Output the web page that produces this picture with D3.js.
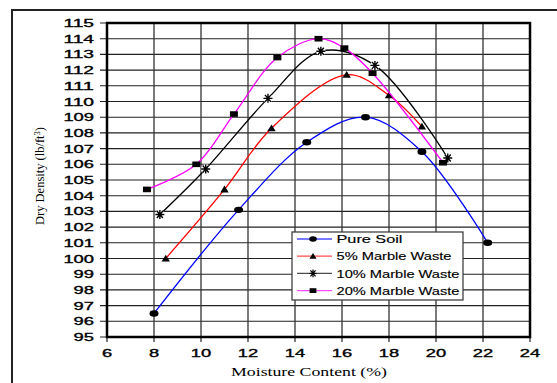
<!DOCTYPE html>
<html lang="en">
<head>
  <meta charset="UTF-8" />
  <title>Dry Density vs Moisture Content</title>
  <script src="https://d3js.org/d3.v7.min.js"></script>
  <style>
    body {
      margin: 0;
      background: #fff;
    }
    svg {
      display: block;
    }
    .tick-label {
      font-family: "Liberation Sans", Arial, sans-serif;
      font-size: 11.5px;
      fill: #000;
      stroke: #000;
      stroke-width: 0.35px;
    }
    .legend-label {
      font-family: "Liberation Sans", Arial, sans-serif;
      font-size: 11.5px;
      fill: #000;
      stroke: #000;
      stroke-width: 0.15px;
    }
    .title {
      font-family: "Liberation Serif", "Times New Roman", serif;
      fill: #000;
    }
  </style>
</head>
<body>
  <svg id="chart" width="557" height="383"></svg>

  <script>
    // moisture content (%) and dry density (lb/ft3)
    const pureX = [8.0, 11.6, 14.5, 17.0, 19.4, 22.2];
    const pureY = [96.5, 103.1, 107.4, 109.0, 106.8, 101.0];

    const m5X = [8.5, 11.0, 13.0, 16.2, 18.0, 19.4];
    const m5Y = [100.0, 104.4, 108.3, 111.7, 110.4, 108.4];

    const m10X = [8.25, 10.2, 12.85, 15.1, 17.4, 20.5];
    const m10Y = [102.8, 105.7, 110.2, 113.2, 112.3, 106.4];

    const m20X = [7.7, 9.8, 11.4, 13.25, 15.0, 16.1, 17.3, 20.3];
    const m20Y = [104.4, 106.0, 109.2, 112.8, 114.0, 113.4, 111.8, 106.1];

    const xTicks = [6, 8, 10, 12, 14, 16, 18, 20, 22, 24];
    const yTicks = d3.range(95, 116, 1);

    const series = [
      { name: "Pure Soil", xs: pureX, ys: pureY, color: "#0000ff", marker: "circle" },
      { name: "5% Marble Waste", xs: m5X, ys: m5Y, color: "#ff0000", marker: "triangle" },
      { name: "10% Marble Waste", xs: m10X, ys: m10Y, color: "#000000", marker: "star" },
      { name: "20% Marble Waste", xs: m20X, ys: m20Y, color: "#ff00ff", marker: "square" }
    ];

    const svg = d3.select("#chart");

    // outer frame of the figure (cut off at right and bottom)
    svg.append("path")
      .attr("d", "M12,383 V10 H557")
      .attr("fill", "none")
      .attr("stroke", "#222")
      .attr("stroke-width", 2);

    const x = d3.scaleLinear().domain([6, 24]).range([107, 530]);
    const y = d3.scaleLinear().domain([95, 115]).range([337, 23]);

    // horizontal grid + tick stubs
    svg.append("g")
      .selectAll("line")
      .data(yTicks)
      .join("line")
      .attr("x1", x(6) - 7)
      .attr("x2", x(24))
      .attr("y1", d => y(d))
      .attr("y2", d => y(d))
      .attr("stroke", "#222")
      .attr("stroke-width", 1.1);

    // vertical grid + tick stubs
    svg.append("g")
      .selectAll("line")
      .data(xTicks)
      .join("line")
      .attr("x1", d => x(d))
      .attr("x2", d => x(d))
      .attr("y1", y(115))
      .attr("y2", y(95) + 5)
      .attr("stroke", "#333")
      .attr("stroke-width", 1.3);

    // plot border
    svg.append("rect")
      .attr("x", x(6))
      .attr("y", y(115))
      .attr("width", x(24) - x(6))
      .attr("height", y(95) - y(115))
      .attr("fill", "none")
      .attr("stroke", "#000")
      .attr("stroke-width", 2.5);

    // tick labels
    svg.append("g")
      .selectAll("text")
      .data(yTicks)
      .join("text")
      .attr("class", "tick-label")
      .attr("x", 94)
      .attr("y", d => y(d) + 4)
      .attr("text-anchor", "end")
      .attr("textLength", d => String(d).length * 10.2)
      .attr("lengthAdjust", "spacingAndGlyphs")
      .text(d => d);

    svg.append("g")
      .selectAll("text")
      .data(xTicks)
      .join("text")
      .attr("class", "tick-label")
      .attr("x", d => x(d))
      .attr("y", 357)
      .attr("text-anchor", "middle")
      .attr("textLength", d => String(d).length * 10.2)
      .attr("lengthAdjust", "spacingAndGlyphs")
      .text(d => d);

    // axis titles
    svg.append("text")
      .attr("class", "title")
      .attr("x", 231)
      .attr("y", 376)
      .attr("font-size", 13.5)
      .attr("textLength", 156)
      .attr("lengthAdjust", "spacingAndGlyphs")
      .text("Moisture Content (%)");

    const yTitle = svg.append("text")
      .attr("class", "title")
      .attr("transform", "translate(44,225) rotate(-90)")
      .attr("font-size", 12.5)
      .attr("textLength", 98)
      .attr("lengthAdjust", "spacingAndGlyphs");
    yTitle.append("tspan").text("Dry Density (lb/ft");
    yTitle.append("tspan").attr("dy", -4.5).attr("font-size", 8.5).text("3");
    yTitle.append("tspan").attr("dy", 4.5).text(")");

    // marker drawing
    function drawMarker(g, type, color) {
      if (type === "circle") {
        g.append("ellipse").attr("rx", 4.5).attr("ry", 3.2).attr("fill", "#000");
      } else if (type === "triangle") {
        g.append("path").attr("d", "M0,-3.8 L4.2,3 L-4.2,3 Z").attr("fill", "#000");
      } else if (type === "square") {
        g.append("rect").attr("x", -4).attr("y", -2.8).attr("width", 8).attr("height", 5.6).attr("fill", "#000");
      } else if (type === "star") {
        const d = "M-4.5,0 H4.5 M-3,-3.5 L3,3.5 M3,-3.5 L-3,3.5 M0,-4.5 V4.5";
        g.append("path").attr("d", d).attr("stroke", "#fff").attr("stroke-width", 3.5);
        g.append("path").attr("d", d).attr("stroke", "#000").attr("stroke-width", 1.4);
      }
    }

    const line = d3.line()
      .x(d => x(d[0]))
      .y(d => y(d[1]))
      .curve(d3.curveCatmullRom.alpha(0.5));

    series.forEach(s => {
      const pts = s.xs.map((v, i) => [v, s.ys[i]]);
      const g = svg.append("g");
      g.append("path")
        .attr("d", line(pts))
        .attr("fill", "none")
        .attr("stroke", s.color)
        .attr("stroke-width", 1.3);
      g.selectAll("g.pt")
        .data(pts)
        .join("g")
        .attr("class", "pt")
        .attr("transform", d => `translate(${x(d[0])},${y(d[1])})`)
        .each(function () { drawMarker(d3.select(this), s.marker, s.color); });
    });

    // legend
    const legend = svg.append("g").attr("transform", "translate(292,232)");
    legend.append("rect")
      .attr("width", 171)
      .attr("height", 68)
      .attr("fill", "#fff")
      .attr("stroke", "#333")
      .attr("stroke-width", 1.2);

    const legendWidths = [66, 115, 123, 123];
    series.forEach((s, i) => {
      const row = legend.append("g").attr("transform", `translate(0,${7 + i * 17.2})`);
      row.append("line")
        .attr("x1", 5).attr("x2", 40)
        .attr("stroke", s.color)
        .attr("stroke-width", 1.3)
        .attr("stroke-opacity", 0.7);
      const m = row.append("g").attr("transform", "translate(21,0) scale(0.85)");
      drawMarker(m, s.marker, s.color);
      row.append("text")
        .attr("class", "legend-label")
        .attr("x", 44.5)
        .attr("y", 4.2)
        .attr("textLength", legendWidths[i])
        .attr("lengthAdjust", "spacingAndGlyphs")
        .text(s.name);
    });
  </script>
</body>
</html>
